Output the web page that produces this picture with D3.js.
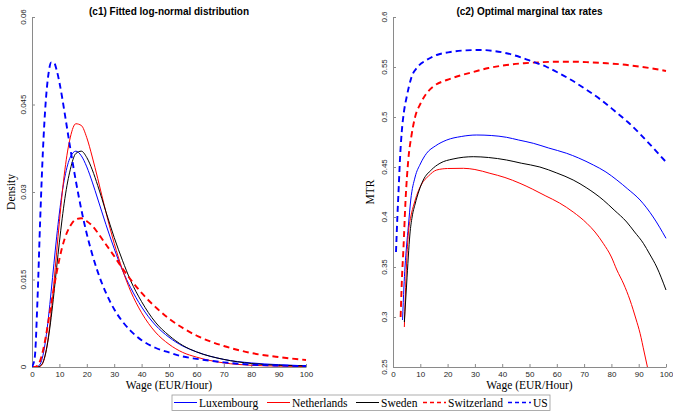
<!DOCTYPE html>
<html>
<head>
<meta charset="utf-8">
<script src="https://cdn.jsdelivr.net/npm/d3@7"></script>
<style>
  html, body { margin: 0; padding: 0; background: #fff; }
  svg { display: block; }
</style>
</head>
<body>
<svg id="chart" width="673" height="414"></svg>
<script>
// ---------- Panel (c1): fitted log-normal densities ----------
const wageGrid = [0,1,2,3,4,5,6,7,8,9,10,11,12,14,16,18,20,22,24,27,30,33,36,40,45,50,55,60,70,80,90,100];
const densLux = [0,0,0.0001,0.0005,0.0020,0.0047,0.0085,0.0130,0.0177,0.0223,0.0264,0.0299,0.0326,0.0360,0.0370,0.0362,0.0343,0.0317,0.0288,0.0244,0.0203,0.0166,0.0136,0.0103,0.0072,0.0051,0.0036,0.0026,0.0013,0.0007,0.0004,0.0002];
const densNL  = [0,0,0,0.0001,0.0007,0.0024,0.0053,0.0094,0.0144,0.0197,0.0249,0.0297,0.0338,0.0394,0.0417,0.0414,0.0393,0.0360,0.0323,0.0265,0.0212,0.0167,0.0130,0.0093,0.0060,0.0039,0.0025,0.0017,0.0007,0.0003,0.00015,0.00008];
const densSE  = [0,0,0,0.0002,0.0008,0.0024,0.0050,0.0085,0.0126,0.0171,0.0214,0.0254,0.0289,0.0339,0.0366,0.0370,0.0359,0.0338,0.0311,0.0266,0.0222,0.0183,0.0148,0.0112,0.0077,0.0054,0.0037,0.0026,0.0013,0.0006,0.0003,0.0002];
const densCH  = [0,0,0.0002,0.0011,0.0028,0.0051,0.0079,0.0108,0.0136,0.0162,0.0185,0.0205,0.0221,0.0242,0.0253,0.0255,0.0250,0.0242,0.0230,0.0210,0.0190,0.0169,0.0150,0.0127,0.0103,0.0083,0.0067,0.0054,0.0036,0.0024,0.0017,0.0012];
const densUS  = [0,0.0016,0.0115,0.0254,0.0372,0.0454,0.0502,0.0522,0.0522,0.0509,0.0488,0.0462,0.0433,0.0374,0.0319,0.0270,0.0228,0.0193,0.0163,0.0127,0.0099,0.0078,0.0062,0.0046,0.0033,0.0025,0.0018,0.0014,0.0008,0.0004,0.00025,0.00016];
const densTicks = [0, 0.015, 0.03, 0.045, 0.06];
const densTickLabels = ["0", "0.015", "0.03", "0.045", "0.06"];

// ---------- Panel (c2): optimal marginal tax rates ----------
const mtrWageLux = [3.5,4,4.4,5,5.6,6.5,8.1,10,12.3,15.5,19.7,25,30.7,36,41.6,46,51.4,57,63.6,68,73.4,78,82,86,90.5,95.3,100];
const mtrLux     = [0.297,0.33,0.35,0.372,0.39,0.417,0.44,0.453,0.4637,0.471,0.477,0.4805,0.482,0.4815,0.4797,0.477,0.4737,0.469,0.4637,0.459,0.452,0.445,0.437,0.428,0.417,0.4,0.3787];
const mtrWageNL  = [4.15,4.5,5,5.6,6.5,7.7,9,10.5,13,16,20,25.8,30,35.5,41,46.5,51,56,61,66,71,74,77,80,82,84.5,86.8,89,90.5,92,93.2];
const mtrNL      = [0.29,0.32,0.355,0.383,0.4,0.413,0.424,0.433,0.441,0.447,0.4485,0.4487,0.4475,0.4437,0.4395,0.4337,0.428,0.421,0.414,0.405,0.3937,0.385,0.3737,0.36,0.347,0.333,0.317,0.298,0.2837,0.265,0.25];
const mtrWageSE  = [4.15,4.6,5,5.6,6.2,7,8.1,9.5,11.1,14,17.2,22,29.4,35,41.6,47,53.8,60,66,71,77,81,85.6,88.5,91.7,94,96.6,100];
const mtrSE      = [0.295,0.315,0.333,0.36,0.383,0.4,0.413,0.426,0.437,0.447,0.4537,0.458,0.4603,0.4595,0.457,0.4538,0.45,0.444,0.437,0.429,0.417,0.407,0.395,0.385,0.3737,0.363,0.35,0.327];
const mtrWageCH  = [2.8,3.3,3.8,4.6,5.6,6.8,8.1,10,12.3,15,19.7,24,29.4,35,41.6,48,53.8,60,66,72,78.3,84,90.5,95,100];
const mtrCH      = [0.30,0.34,0.367,0.417,0.457,0.482,0.5,0.513,0.5237,0.531,0.537,0.541,0.545,0.549,0.552,0.5538,0.5547,0.5553,0.5553,0.5547,0.5537,0.5525,0.5503,0.5485,0.546];
const mtrWageUS  = [1.1,1.6,2.1,2.6,3.2,4,5,6.8,9,12.3,16,21,26,32,37,42,47,51.4,56,60,65,71,76,81,86,90.5,95,100];
const mtrUS      = [0.365,0.40,0.43,0.46,0.485,0.505,0.52,0.54,0.55,0.557,0.562,0.565,0.5665,0.567,0.566,0.5635,0.5595,0.555,0.5505,0.545,0.5375,0.527,0.5175,0.5065,0.495,0.483,0.47,0.455];
const mtrTicks = [0.25,0.3,0.35,0.4,0.45,0.5,0.55,0.6];
const mtrTickLabels = ["0.25","0.3","0.35","0.4","0.45","0.5","0.55","0.6"];

const wageTicks = [0,10,20,30,40,50,60,70,80,90,100];

const seriesNames = ["Luxembourg","Netherlands","Sweden","Switzerland","US"];
const seriesColors = ["#0000ff","#ff0000","#000000","#ff0000","#0000ff"];
const seriesDashed = [false,false,false,true,true];

const panelTitles = ["(c1) Fitted log-normal distribution", "(c2) Optimal marginal tax rates"];
const yLabels = ["Density", "MTR"];
const xLabel = "Wage (EUR/Hour)";

// ---------- drawing ----------
const svg = d3.select("#chart");
const axisColor = "#8a8a8a";
const textColor = "#262626";
const sans = "'Liberation Sans', Arial, Helvetica, sans-serif";
const serif = "'Liberation Serif', 'Times New Roman', serif";

function panel(opts) {
  const { left, right, top, bottom, yDomain, yTicks, yTickLabels, lines, title, ylab, ylabX, id } = opts;
  const x = d3.scaleLinear().domain([0, 100]).range([left, right]);
  const y = d3.scaleLinear().domain(yDomain).range([bottom, top]);
  const g = svg.append("g");

  g.append("clipPath").attr("id", id).append("rect")
    .attr("x", left).attr("y", top).attr("width", right - left + 1).attr("height", bottom - top);

  // x axis
  const xa = g.append("g").attr("transform", `translate(0,${bottom})`)
    .call(d3.axisBottom(x).tickValues(wageTicks).tickFormat(d3.format("d")).tickSize(-3).tickSizeOuter(0).tickPadding(4));
  // y axis
  const ya = g.append("g").attr("transform", `translate(${left},0)`)
    .call(d3.axisLeft(y).tickValues(yTicks).tickFormat("").tickSize(-3).tickSizeOuter(0));
  [xa, ya].forEach(a => {
    a.selectAll("path, line").attr("stroke", axisColor).attr("stroke-width", 1);
    a.selectAll("text").attr("fill", textColor).style("font-family", sans).style("font-size", "8px");
  });
  // rotated y tick labels
  g.selectAll(".ytl").data(yTicks).join("text")
    .attr("transform", (d) => `translate(${left - 6},${y(d)}) rotate(-90)`)
    .attr("text-anchor", "middle")
    .attr("fill", textColor)
    .style("font-family", sans).style("font-size", "8px")
    .text((d, i) => yTickLabels[i]);

  // lines
  const lineGen = d3.line().x(d => x(d[0])).y(d => y(d[1])).curve(d3.curveMonotoneX);
  const lg = g.append("g").attr("clip-path", `url(#${id})`);
  lines.forEach((ln, i) => {
    const pts = ln.xs.map((w, k) => [w, ln.ys[k]]);
    lg.append("path").datum(pts)
      .attr("d", lineGen)
      .attr("fill", "none")
      .attr("stroke", seriesColors[i])
      .attr("stroke-width", seriesDashed[i] ? 1.9 : 1)
      .attr("stroke-dasharray", seriesDashed[i] ? "6,4" : null);
  });

  // title
  g.append("text").attr("x", (left + right) / 2).attr("y", 15)
    .attr("text-anchor", "middle").attr("fill", "#000")
    .style("font-family", sans).style("font-weight", "bold").style("font-size", "10px")
    .text(title);
  // x label
  g.append("text").attr("x", (left + right) / 2).attr("y", 389)
    .attr("text-anchor", "middle").attr("fill", "#000")
    .style("font-family", serif).style("font-size", "11.5px")
    .text(xLabel);
  // y label
  g.append("text").attr("transform", `translate(${ylabX},${(top + bottom) / 2}) rotate(-90)`)
    .attr("text-anchor", "middle").attr("fill", "#000")
    .style("font-family", serif).style("font-size", "11.5px")
    .text(ylab);
}

panel({
  id: "clipL", left: 32, right: 306, top: 17, bottom: 367,
  yDomain: [0, 0.06], yTicks: densTicks, yTickLabels: densTickLabels,
  title: panelTitles[0], ylab: yLabels[0], ylabX: 15,
  lines: [
    { xs: wageGrid, ys: densLux },
    { xs: wageGrid, ys: densNL },
    { xs: wageGrid, ys: densSE },
    { xs: wageGrid, ys: densCH },
    { xs: wageGrid, ys: densUS }
  ]
});

panel({
  id: "clipR", left: 393, right: 666, top: 17, bottom: 367,
  yDomain: [0.25, 0.6], yTicks: mtrTicks, yTickLabels: mtrTickLabels,
  title: panelTitles[1], ylab: yLabels[1], ylabX: 374,
  lines: [
    { xs: mtrWageLux, ys: mtrLux },
    { xs: mtrWageNL, ys: mtrNL },
    { xs: mtrWageSE, ys: mtrSE },
    { xs: mtrWageCH, ys: mtrCH },
    { xs: mtrWageUS, ys: mtrUS }
  ]
});

// legend
const leg = svg.append("g");
const legStarts = [174, 267, 356, 423, 508];
const legY = 402.5;
leg.append("rect").attr("x", 172).attr("y", 395).attr("width", 378).attr("height", 15.5)
  .attr("fill", "#fff").attr("stroke", "#9a9a9a").attr("stroke-width", 0.8);
seriesNames.forEach((name, i) => {
  const x0 = legStarts[i];
  leg.append("line").attr("x1", x0).attr("x2", x0 + 23).attr("y1", legY).attr("y2", legY)
    .attr("stroke", seriesColors[i]).attr("stroke-width", seriesDashed[i] ? 1.5 : 1)
    .attr("stroke-dasharray", seriesDashed[i] ? "4,3" : null);
  leg.append("text").attr("x", x0 + 25).attr("y", legY + 4)
    .attr("fill", "#000").style("font-family", serif).style("font-size", "11.5px")
    .text(name);
});
</script>
</body>
</html>
